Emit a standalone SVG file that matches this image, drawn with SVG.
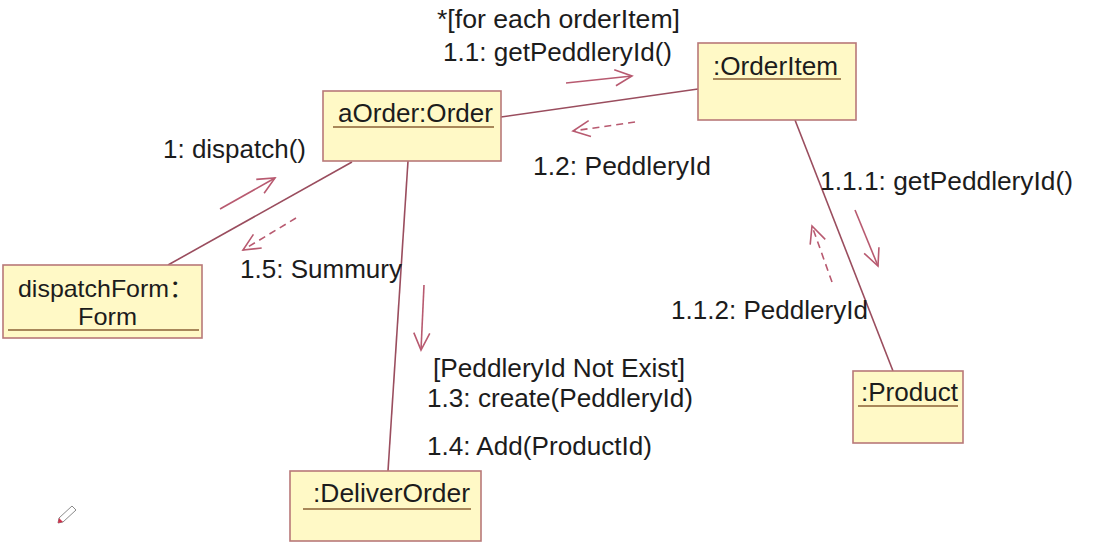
<svg xmlns="http://www.w3.org/2000/svg" width="1116" height="551" viewBox="0 0 1116 551">
<defs>
<style>
.box{fill:#fff9c6;stroke:#b87878;stroke-width:1.6}
.ul{stroke:#a8875a;stroke-width:2}
.t{font-family:"Liberation Sans",Arial,"Noto Sans CJK SC",sans-serif;font-size:26px;fill:#1c1c1c}
.s{font-size:24px}
.link{stroke:#9a4d5e;stroke-width:1.6;fill:none}
.msg{stroke:#b85a70;stroke-width:1.6;fill:none}
.ret{stroke:#b85a70;stroke-width:1.6;fill:none;stroke-dasharray:7 5}
</style>
<marker id="open" viewBox="0 0 20 20" refX="18" refY="10" markerWidth="20" markerHeight="20" markerUnits="userSpaceOnUse" orient="auto">
<path d="M1,2 L18,10 L1,18" fill="none" stroke="#b85a70" stroke-width="1.6"/>
</marker>
</defs>
<rect width="1116" height="551" fill="#ffffff"/>
<g id="connectors">
<line class="link" x1="501" y1="117" x2="698" y2="89"/>
<line class="link" x1="352" y1="162" x2="168" y2="265"/>
<line class="link" x1="408" y1="161" x2="388" y2="471"/>
<line class="link" x1="795" y1="120" x2="893" y2="371"/>
<line class="msg" x1="566" y1="83" x2="632" y2="76" marker-end="url(#open)"/>
<line class="ret" x1="635" y1="122" x2="573" y2="131" marker-end="url(#open)"/>
<line class="msg" x1="220" y1="209" x2="275" y2="178" marker-end="url(#open)"/>
<line class="ret" x1="296" y1="218" x2="243" y2="250" marker-end="url(#open)"/>
<line class="msg" x1="424" y1="285" x2="421" y2="350" marker-end="url(#open)"/>
<line class="msg" x1="855" y1="210" x2="878" y2="266" marker-end="url(#open)"/>
<line class="ret" x1="832" y1="282" x2="812" y2="226" marker-end="url(#open)"/>
</g>
<g id="labels">
<text class="t" x="437" y="28" textLength="243" lengthAdjust="spacingAndGlyphs">*[for each orderItem]</text>
<text class="t" x="443" y="61" textLength="229" lengthAdjust="spacingAndGlyphs">1.1: getPeddleryId()</text>
<text class="t" x="163" y="158" textLength="143" lengthAdjust="spacingAndGlyphs">1: dispatch()</text>
<text class="t" x="533" y="175" textLength="178" lengthAdjust="spacingAndGlyphs">1.2: PeddleryId</text>
<text class="t" x="820" y="190" textLength="253" lengthAdjust="spacingAndGlyphs">1.1.1: getPeddleryId()</text>
<text class="t" x="240" y="278" textLength="162" lengthAdjust="spacingAndGlyphs">1.5: Summury</text>
<text class="t" x="671" y="319" textLength="197" lengthAdjust="spacingAndGlyphs">1.1.2: PeddleryId</text>
<text class="t" x="433" y="377" textLength="252" lengthAdjust="spacingAndGlyphs">[PeddleryId Not Exist]</text>
<text class="t" x="427" y="407" textLength="266" lengthAdjust="spacingAndGlyphs">1.3: create(PeddleryId)</text>
<text class="t" x="427" y="455" textLength="225" lengthAdjust="spacingAndGlyphs">1.4: Add(ProductId)</text>
</g>
<g id="aOrder">
<rect class="box" x="323" y="91" width="178" height="70"/>
<text class="t" x="338" y="122" textLength="155" lengthAdjust="spacingAndGlyphs">aOrder:Order</text>
<line class="ul" x1="333" y1="127" x2="494" y2="127"/>
</g>
<g id="orderItem">
<rect class="box" x="698" y="43" width="158" height="77"/>
<text class="t" x="713" y="75" textLength="125" lengthAdjust="spacingAndGlyphs">:OrderItem</text>
<line class="ul" x1="713" y1="79" x2="841" y2="79"/>
</g>
<g id="dispatchForm">
<rect class="box" x="3" y="265" width="199" height="73"/>
<text class="t s" x="18" y="297" textLength="176" lengthAdjust="spacingAndGlyphs">dispatchForm：</text>
<text class="t s" x="78" y="325" textLength="59" lengthAdjust="spacingAndGlyphs">Form</text>
<line class="ul" x1="8" y1="330" x2="199" y2="330"/>
</g>
<g id="product">
<rect class="box" x="853" y="371" width="110" height="72"/>
<text class="t" x="861" y="401" textLength="97" lengthAdjust="spacingAndGlyphs">:Product</text>
<line class="ul" x1="858" y1="406" x2="958" y2="406"/>
</g>
<g id="deliverOrder">
<rect class="box" x="290" y="471" width="191" height="70"/>
<text class="t" x="313" y="502" textLength="157" lengthAdjust="spacingAndGlyphs">:DeliverOrder</text>
<line class="ul" x1="303" y1="509" x2="471" y2="509"/>
</g>
<g id="pencil">
<path d="M72,506 L76,510 L63,522 L58,523 L59,518 Z" fill="#ffffff" stroke="#8a8a8a" stroke-width="1"/>
<path d="M59,518 L63,522 L58,523 Z" fill="#d0304a"/>
</g>
</svg>
